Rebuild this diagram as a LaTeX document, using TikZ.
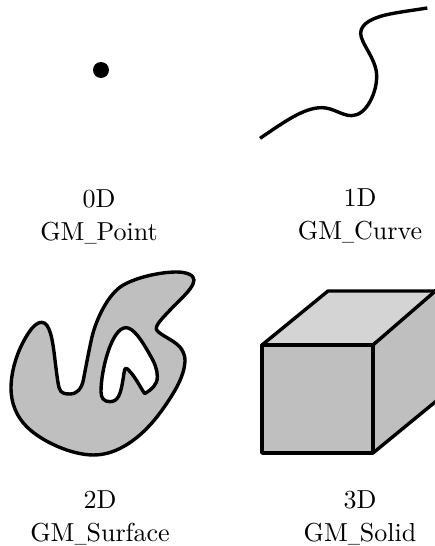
\documentclass[tikz,border=0pt]{standalone}
\usepackage{graphicx}
\newcommand{\usc}{\scalebox{0.62}[1]{\_}}
\begin{document}
\begin{tikzpicture}[x=1pt,y=-1pt,
  outline/.style={draw=black,line width=3.4pt,line join=round},
  caption/.style={scale=2.6,align=center,inner sep=0pt,anchor=center}]
\useasboundingbox (0,0) rectangle (435,546);
\clip (0,0) rectangle (435,546);
% point
\fill[black] (101,70) circle (8);
% curve
\begin{scope}[xshift=240pt,yshift=0pt,x=0.3333pt,y=-0.3333pt]
\draw[line width=3.4pt] (60,415) .. controls (130,368) and (190,323) .. (245,323)
 .. controls (280,323) and (305,347) .. (335,347)
 .. controls (380,347) and (412,275) .. (410,225)
 .. controls (408,175) and (362,130) .. (362,100)
 .. controls (362,70) and (400,52) .. (450,42)
 .. controls (485,35) and (525,30) .. (562,24);
\end{scope}
% surface
\begin{scope}[yshift=-260pt,x=0.3333pt,y=-0.3333pt]
\draw[outline,fill=black!25,even odd rule]
 (125,187) .. controls (150,187) and (158,240) .. (165,300)
 .. controls (170,340) and (174,375) .. (178,385)
 .. controls (182,400) and (195,402) .. (210,402)
 .. controls (232,402) and (245,385) .. (250,360)
 .. controls (258,320) and (265,280) .. (275,235)
 .. controls (287,180) and (325,100) .. (370,75)
 .. controls (410,52) and (480,36) .. (530,36)
 .. controls (560,36) and (582,45) .. (582,60)
 .. controls (582,75) and (565,95) .. (545,115)
 .. controls (520,140) and (485,175) .. (475,190)
 .. controls (465,205) and (468,210) .. (478,218)
 .. controls (495,232) and (530,245) .. (545,268)
 .. controls (552,280) and (556,292) .. (555,305)
 .. controls (552,350) and (525,395) .. (490,445)
 .. controls (455,495) and (415,535) .. (370,560)
 .. controls (340,577) and (310,585) .. (280,585)
 .. controls (215,585) and (125,545) .. (80,500)
 .. controls (50,470) and (33,430) .. (33,385)
 .. controls (33,335) and (50,285) .. (65,255)
 .. controls (85,215) and (105,187) .. (125,187) -- cycle
 (378,203) .. controls (400,203) and (425,240) .. (450,285)
 .. controls (465,310) and (472,330) .. (472,350)
 .. controls (472,375) and (455,388) .. (434,401)
 .. controls (420,380) and (405,350) .. (390,335)
 .. controls (385,328) and (381,325) .. (378,325)
 .. controls (372,325) and (372,345) .. (368,365)
 .. controls (362,400) and (355,425) .. (330,425)
 .. controls (312,425) and (303,415) .. (303,395)
 .. controls (303,330) and (335,203) .. (378,203) -- cycle;
\end{scope}
% solid
\draw[outline,fill=black!17] (262,345) -- (328,291) -- (440,291) -- (373,345) -- cycle;
\draw[outline,fill=black!25] (373,345) -- (440,287) -- (440,398) -- (373,453) -- cycle;
\draw[outline,fill=black!25] (262,345) rectangle (373,453);
% captions
\node[caption] (a) at (99,217) {0D\\[0.7pt]GM\usc Point};
\node[caption] (b) at (360,216) {1D\\[0.7pt]GM\usc Curve};
\node[caption] (c) at (100,518) {2D\\[0.7pt]GM\usc Surface};
\node[caption] (d) at (360,518) {3D\\[0.7pt]GM\usc Solid};
\end{tikzpicture}
\end{document}
